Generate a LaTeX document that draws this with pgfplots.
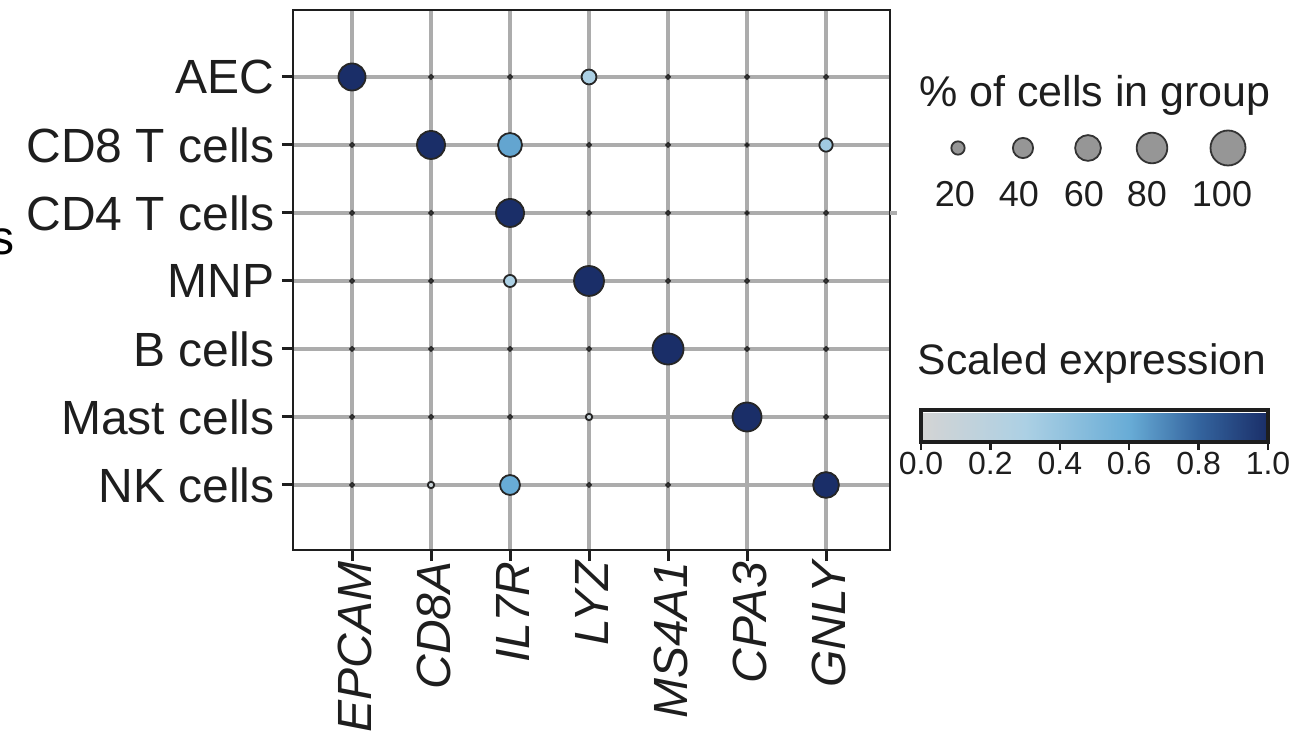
\documentclass[border=0pt]{standalone}
\usepackage{fontspec}
\setmainfont{Liberation Sans}
\usepackage{pgfplots}
\pgfplotsset{compat=1.18}
\usepackage{pgfplotstable}

\definecolor{gridc}{RGB}{172,172,172}
\definecolor{txt}{RGB}{30,30,30}
\definecolor{lgray}{RGB}{150,150,150}

% x: gene index (EPCAM..GNLY), y: cell type index (AEC..NK cells)
\pgfplotstableread{
x y frac expr
0 0 65 1.00
1 0 2.6 0
2 0 2.6 0
3 0 24 0.30
4 0 2.6 0
5 0 2.6 0
6 0 2.6 0
0 1 2.6 0
1 1 69 1.00
2 1 53 0.62
3 1 2.6 0
4 1 2.6 0
5 1 1.8 0
6 1 20 0.35
0 2 2.6 0
1 2 2.6 0
2 2 69 1.00
3 2 2.6 0
4 2 2.6 0
5 2 1.8 0
6 2 2.6 0
0 3 2.6 0
1 3 2.6 0
2 3 17 0.30
3 3 77 1.00
4 3 2.6 0
5 3 2.6 0
6 3 2.6 0
0 4 2.6 0
1 4 2.6 0
2 4 2.6 0
3 4 2.6 0
4 4 82 1.00
5 4 2.6 0
6 4 2.6 0
0 5 2.6 0
1 5 2.6 0
2 5 2.6 0
3 5 6 0.08
5 5 73 1.00
6 5 2.6 0
0 6 2.6 0
1 6 6 0.08
2 6 39 0.60
3 6 2.6 0
4 6 2.6 0
6 6 60 1.00
}\dotdata

\pgfplotstableread{
x y frac
958 148 20
1023 148 40
1088 148 60
1152 148 80
1228 148 100
}\sizelegend

\begin{document}
\begin{tikzpicture}
\useasboundingbox (0,0) rectangle (649pt,374.5pt);
\begin{axis}[
  at={(146.5pt,99.5pt)}, anchor=south west,
  scale only axis, width=298.5pt, height=270pt,
  xmin=-0.747, xmax=6.81, ymin=-0.985, ymax=6.956,
  y dir=reverse,
  clip=false,
  xtick={0,1,2,3,4,5,6}, ytick={0,1,2,3,4,5,6},
  xticklabels={EPCAM,CD8A,IL7R,LYZ,MS4A1,CPA3,GNLY},
  yticklabels={AEC,CD8 T cells,CD4 T cells,MNP,B cells,Mast cells,NK cells},
  grid=major,
  major grid style={line width=1.6pt, color=gridc},
  axis line style={line width=1.4pt, color=txt},
  tick style={line width=1.5pt, color=txt},
  tick align=outside, major tick length=5.5pt,
  xtick pos=left, ytick pos=left,
  yticklabel style={font=\fontsize{24}{28}\selectfont, text=txt, inner sep=0pt, xshift=-3.5pt},
  xticklabel style={font=\fontsize{24}{28}\selectfont\itshape, text=txt, rotate=90, anchor=east, inner sep=0pt, yshift=-1.5pt},
  colormap={dotmap}{rgb255(0cm)=(212,212,212); rgb255(3cm)=(172,208,228); rgb255(6cm)=(104,172,214); rgb255(8cm)=(52,100,158); rgb255(10cm)=(26,46,104)},
  point meta min=0, point meta max=1,
  colorbar horizontal,
  colorbar style={
    at={(parent axis.north east)}, anchor=north west,
    xshift=15.5pt, yshift=-191.5pt,
    scale only axis, width=173.5pt, height=16pt,
    xmin=0, xmax=1, ymin=0, ymax=1,
    y dir=normal, grid=none,
    xtick={0,0.2,0.4,0.6,0.8,1},
    xticklabels={0.0,0.2,0.4,0.6,0.8,1.0},
    ytick=\empty,
    xtick pos=left, xticklabel pos=left,
    xticklabel style={font=\fontsize{16}{18}\selectfont\upshape, text=txt, rotate=0, anchor=north, inner sep=1pt, xshift=0pt, yshift=0pt},
    tick align=outside, major tick length=4pt,
    tick style={line width=1.2pt, color=txt},
    axis line style={line width=1.6pt, color=txt},
  },
]
\addplot[scatter, only marks, mark=*,
  point meta=\thisrow{expr},
  scatter/use mapped color={draw=black!85, fill=mapped color},
  visualization depends on={8.75*(\thisrow{frac}/100)^0.6 \as \msize},
  scatter/@pre marker code/.append style={/tikz/mark size=\msize},
  mark options={line width=0.9pt}] table[x=x, y=y] {\dotdata};
\draw[gridc, line width=1.6pt] (axis cs:6.81,2) -- (axis cs:6.9,2);
\end{axis}

\begin{axis}[
  at={(0pt,0pt)}, anchor=south west,
  scale only axis, width=649pt, height=374.5pt,
  xmin=0, xmax=1298, ymin=0, ymax=749, y dir=reverse,
  hide axis, clip=false,
]
\addplot[scatter, only marks, mark=*,
  point meta=\thisrow{frac},
  scatter/use mapped color={draw=black!80, fill=lgray},
  visualization depends on={8.75*(\thisrow{frac}/100)^0.6 \as \msize},
  scatter/@pre marker code/.append style={/tikz/mark size=\msize},
  mark options={line width=0.9pt}] table[x=x, y=y] {\sizelegend};
\node[anchor=base, text=txt, font=\fontsize{21.5}{24}\selectfont, inner sep=0pt] at (axis cs:1095,107) {\% of cells in group};
\node[anchor=base, text=txt, font=\fontsize{18}{21}\selectfont, inner sep=0pt] at (axis cs:955,207) {20};
\node[anchor=base, text=txt, font=\fontsize{18}{21}\selectfont, inner sep=0pt] at (axis cs:1019,207) {40};
\node[anchor=base, text=txt, font=\fontsize{18}{21}\selectfont, inner sep=0pt] at (axis cs:1084,207) {60};
\node[anchor=base, text=txt, font=\fontsize{18}{21}\selectfont, inner sep=0pt] at (axis cs:1147,207) {80};
\node[anchor=base, text=txt, font=\fontsize{18}{21}\selectfont, inner sep=0pt] at (axis cs:1222,207) {100};
\node[anchor=base, text=txt, font=\fontsize{21.3}{24}\selectfont, inner sep=0pt] at (axis cs:1092,375) {Scaled expression};
\node[anchor=base east, text=black, font=\fontsize{24}{28}\selectfont, inner sep=0pt] at (axis cs:15,255) {s};
\end{axis}
\end{tikzpicture}
\end{document}
